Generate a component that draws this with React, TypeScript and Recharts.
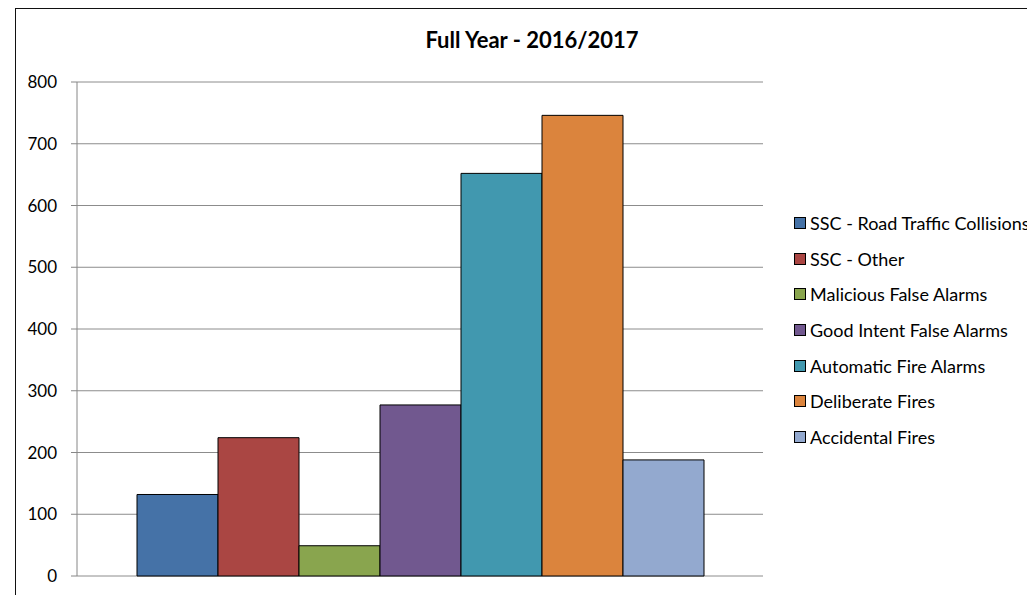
import { BarChart, Bar, XAxis, YAxis, CartesianGrid } from 'recharts';

const category = ['Full Year - 2016/2017'];

const seriesNames = [
    'SSC - Road Traffic Collisions',
    'SSC - Other',
    'Malicious False Alarms',
    'Good Intent False Alarms',
    'Automatic Fire Alarms',
    'Deliberate Fires',
    'Accidental Fires',
];

const seriesValues = [132, 224, 49, 277, 652, 746, 188];

const seriesColors = ['#4572A7', '#AA4643', '#89A54E', '#71588F', '#4198AF', '#DB843D', '#93A9CF'];

const yTicks = [0, 100, 200, 300, 400, 500, 600, 700, 800];

const data = category.map((name) => {
    const row: Record<string, string | number> = { name };
    seriesNames.forEach((s, i) => {
        row[s] = seriesValues[i];
    });
    return row;
});

const FONT = 'Lato, "Open Sans", sans-serif';

function LegendBox() {
    return (
        <div
            style={{
                position: 'absolute',
                left: 794,
                top: 205,
                fontFamily: FONT,
                fontSize: 18,
                color: '#000',
            }}
        >
            {seriesNames.map((s, i) => (
                <div key={s} style={{ height: 35.7, display: 'flex', alignItems: 'center', whiteSpace: 'nowrap' }}>
                    <span
                        style={{
                            display: 'inline-block',
                            width: 10,
                            height: 10,
                            background: seriesColors[i],
                            border: '1px solid #000',
                            marginRight: 4,
                        }}
                    />
                    {s}
                </div>
            ))}
        </div>
    );
}

export default function App() {
    return (
        <div style={{ position: 'fixed', left: 0, top: 0, width: 1027, height: 595, background: '#fff', overflow: 'hidden' }}>
            <div
                style={{
                    position: 'absolute',
                    left: 15,
                    top: 8,
                    width: 1100,
                    height: 700,
                    border: '1px solid #111',
                    boxShadow: '0 1px 0 #999',
                }}
            />
            <div
                style={{
                    position: 'absolute',
                    left: 532,
                    top: 26,
                    transform: 'translateX(-50%)',
                    fontFamily: FONT,
                    fontWeight: 'bold',
                    fontSize: 22,
                    whiteSpace: 'nowrap',
                    color: '#000',
                }}
            >
                {category[0]}
            </div>
            <div style={{ position: 'absolute', left: 0, top: 0 }}>
                <BarChart
                    width={1027}
                    height={595}
                    data={data}
                    margin={{ top: 82, right: 264, left: 0, bottom: 0 }}
                    barCategoryGap={60}
                    barGap={0}
                >
                    <CartesianGrid horizontal vertical={false} stroke="#8c8c8c" />
                    <XAxis dataKey="name" hide />
                    <XAxis
                        xAxisId="edges"
                        type="number"
                        domain={[0, 1]}
                        ticks={[0, 1]}
                        tick={false}
                        tickSize={6}
                        height={19}
                        axisLine={{ stroke: '#868686' }}
                        tickLine={{ stroke: '#868686' }}
                    />
                    <YAxis
                        domain={[0, 800]}
                        ticks={yTicks}
                        width={77}
                        tickSize={6}
                        tickMargin={14}
                        axisLine={{ stroke: '#868686' }}
                        tickLine={{ stroke: '#868686' }}
                        tick={{ fill: '#000', fontSize: 17, fontFamily: FONT }}
                        interval={0}
                    />
                    {seriesNames.map((s, i) => (
                        <Bar
                            key={s}
                            dataKey={s}
                            fill={seriesColors[i]}
                            stroke="#000"
                            strokeWidth={1}
                            isAnimationActive={false}
                        />
                    ))}
                </BarChart>
            </div>
            <LegendBox />
        </div>
    );
}
